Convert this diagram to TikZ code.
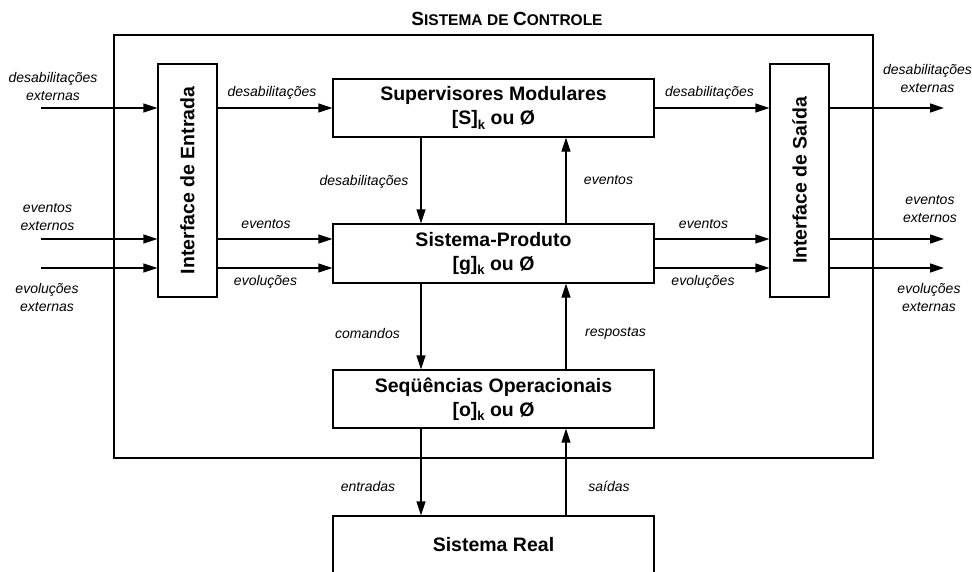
\documentclass[tikz,border=0pt]{standalone}
\usepackage{fontspec}
\setmainfont{Liberation Sans}
\usepackage{tikz}
\usetikzlibrary{arrows.meta,positioning}

\newcommand{\versal}[2]{{\fontsize{19}{22}\selectfont #1}{\fontsize{15.5}{22}\selectfont #2}}
\newcommand{\indk}{\raisebox{-4.5pt}{\fontsize{13}{13}\selectfont k}}

\begin{document}
\begin{tikzpicture}[x=1pt,y=-1pt]
	\tikzstyle{Bloco}	= [rectangle, draw, line width=1.3pt, minimum width=321pt, minimum height=58pt, inner sep=0pt, align=center, font=\fontsize{19.5}{24}\selectfont\bfseries]
	\tikzstyle{Interface}	= [rectangle, draw, line width=1.3pt, minimum width=233pt, minimum height=59pt, inner sep=0pt, rotate=90, font=\fontsize{19.5}{24}\selectfont\bfseries]
	\tikzstyle{Rotulo}	= [inner sep=0pt, align=center, font=\fontsize{14}{18}\selectfont\itshape]
	\tikzstyle{Seta}	= [-{Triangle[length=14pt,width=9pt]}, line width=1.3pt]

	\clip (0,0) rectangle (972,571);

	\draw [line width=1.5pt] (114,35) rectangle (873,458);
	\node (titulo) at (507,19) {\bfseries\versal{S}{ISTEMA}\, \versal{}{DE}\, \versal{C}{ONTROLE}};

	\node (Sup) at (493.5,108) [Bloco] {Supervisores Modulares\\{[S]}\indk\ ou Ø};
	\node (SP) at (493.5,253.5) [Bloco, minimum height=59pt] {Sistema-Produto\\{[g]}\indk\ ou Ø};
	\node (SO) at (493.5,399) [Bloco] {Seqüências Operacionais\\{[o]}\indk\ ou Ø};
	\node (SR) at (493.5,545) [Bloco] {Sistema Real};
	\node (IE) at (187.5,180.5) [Interface] {Interface de Entrada};
	\node (IS) at (799.5,180.5) [Interface] {Interface de Saída};

	\foreach \c/\y in {D/108, E/239, V/268} {
		\coordinate (e\c) at (41,\y);
		\coordinate (s\c) at (944,\y);
		\draw [Seta] (e\c) -- (IE.north |- e\c);
		\draw [Seta] (IS.south |- s\c) -- (s\c);
	}
	\draw [Seta] (IE.south |- eD) -- (Sup.west);
	\draw [Seta] (Sup.east) -- (IS.north |- sD);
	\foreach \c in {E, V} {
		\draw [Seta] (IE.south |- e\c) -- (SP.west |- e\c);
		\draw [Seta] (SP.east |- s\c) -- (IS.north |- s\c);
	}
	\foreach \a/\b in {Sup/SP, SP/SO, SO/SR}
		\draw [Seta] ([xshift=-72.5pt]\a.south) -- ([xshift=-72.5pt]\b.north);
	\foreach \a/\b in {SP/Sup, SO/SP, SR/SO}
		\draw [Seta] ([xshift=72.5pt]\a.north) -- ([xshift=72.5pt]\b.south);

	\foreach \x/\y/\t [count=\i] in {53/86/{desabilitações\\externas}, 47.5/217/{eventos\\externos}, 47/297/{evoluções\\externas},
			272/93/{desabilitações}, 266/224/{eventos}, 265.5/282/{evoluções},
			709.5/93/{desabilitações}, 703.5/224/{eventos}, 703/282/{evoluções},
			927.5/78.5/{desabilitações\\externas}, 930/209.5/{eventos\\externos}, 929/297/{evoluções\\externas},
			364/182/{desabilitações}, 608.5/180/{eventos}, 367.5/333/{comandos}, 615.5/333/{respostas},
			368/486/{entradas}, 609/486/{saídas}}
		\node (r\i) at (\x,\y) [Rotulo] {\t};
\end{tikzpicture}
\end{document}
